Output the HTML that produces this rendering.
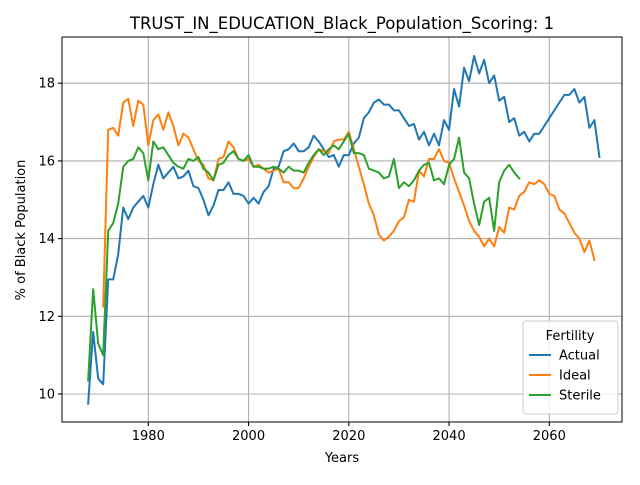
<!DOCTYPE html>
<html><head><meta charset="utf-8"><style>
body{margin:0;background:#fff;font-family:"Liberation Sans","DejaVu Sans",sans-serif}
text{font-family:"DejaVu Sans","Liberation Sans",sans-serif}
</style></head><body>
<svg id="chart" width="640" height="480" viewBox="0 0 640 480" xmlns="http://www.w3.org/2000/svg">
<rect width="640" height="480" fill="#fff"/>
<text x="342" y="29" font-size="16.5" text-anchor="middle">TRUST_IN_EDUCATION_Black_Population_Scoring: 1</text>
<g id="grid"></g>
<g id="series"></g>
<rect x="62" y="37" width="560" height="385" fill="none" stroke="#000" stroke-width="1"/>
<g id="ticks"></g>
<text x="342" y="462" font-size="13" text-anchor="middle">Years</text>
<text transform="translate(25,230) rotate(-90)" font-size="13" text-anchor="middle">% of Black Population</text>
<g>
<rect x="523" y="321" width="95" height="93" rx="3" fill="#fff" fill-opacity="0.8" stroke="#ccc"/>
<text x="570" y="340" font-size="13" text-anchor="middle">Fertility</text>
<g id="legend-items"></g>
</g>
</svg>
<script>
const actualStart = 1968;
const actualValues = [9.75,11.6,10.4,10.25,12.95,12.95,13.6,14.8,14.5,14.8,14.95,15.1,14.8,15.4,15.9,15.55,15.7,15.85,15.55,15.6,15.75,15.35,15.3,15.0,14.6,14.85,15.25,15.25,15.45,15.15,15.15,15.1,14.9,15.05,14.9,15.2,15.35,15.8,15.85,16.25,16.3,16.45,16.25,16.25,16.35,16.65,16.5,16.3,16.1,16.15,15.85,16.15,16.15,16.45,16.6,17.1,17.25,17.5,17.58,17.45,17.45,17.3,17.3,17.1,16.9,16.95,16.55,16.75,16.4,16.7,16.4,17.05,16.8,17.85,17.4,18.4,18.05,18.7,18.25,18.6,18.0,18.2,17.55,17.65,17.0,17.1,16.65,16.75,16.5,16.7,16.7,16.9,17.1,17.3,17.5,17.7,17.7,17.85,17.5,17.65,16.85,17.05,16.1];
const idealStart = 1971;
const idealValues = [12.25,16.8,16.85,16.65,17.5,17.6,16.9,17.55,17.45,16.4,17.05,17.2,16.8,17.25,16.9,16.4,16.7,16.6,16.3,16.0,15.9,15.55,15.5,16.05,16.1,16.5,16.35,16.05,16.0,16.05,15.85,15.9,15.8,15.7,15.75,15.8,15.45,15.45,15.3,15.3,15.55,15.85,16.1,16.3,16.25,16.2,16.5,16.55,16.55,16.75,16.3,15.85,15.4,14.9,14.6,14.1,13.95,14.05,14.2,14.45,14.55,15.0,14.95,15.75,15.6,16.05,16.05,16.3,16.0,15.95,15.55,15.2,14.85,14.45,14.2,14.05,13.8,14.0,13.8,14.3,14.15,14.8,14.75,15.1,15.2,15.45,15.4,15.5,15.4,15.15,15.1,14.75,14.65,14.4,14.15,14.0,13.65,13.95,13.45];
const sterileStart = 1968;
const sterileValues = [10.35,12.7,11.3,11.0,14.2,14.4,14.9,15.85,16.0,16.05,16.35,16.2,15.5,16.5,16.3,16.35,16.15,15.95,15.85,15.8,16.05,16.0,16.1,15.8,15.7,15.5,15.9,15.95,16.15,16.25,16.05,16.0,16.15,15.85,15.85,15.8,15.8,15.85,15.8,15.7,15.85,15.75,15.75,15.7,15.95,16.15,16.3,16.15,16.3,16.4,16.3,16.5,16.7,16.2,16.2,16.15,15.8,15.75,15.7,15.55,15.6,16.05,15.3,15.45,15.35,15.5,15.75,15.9,15.95,15.5,15.55,15.4,15.9,16.05,16.6,15.7,15.55,14.9,14.35,14.95,15.05,14.2,15.45,15.75,15.9,15.7,15.55];
const xTicks = [1980,2000,2020,2040,2060];
const yTicks = [10,12,14,16,18];
const seriesNames = ["Actual","Ideal","Sterile"];

const NS="http://www.w3.org/2000/svg";
function xs(v){return 148.3+(v-1980)*5.0125;}
function ys(v){return 394-(v-10)*38.85;}
function mk(tag,attrs,parent){const e=document.createElementNS(NS,tag);for(const k in attrs)e.setAttribute(k,attrs[k]);parent.appendChild(e);return e;}
const grid=document.getElementById('grid'),ticks=document.getElementById('ticks'),ser=document.getElementById('series'),leg=document.getElementById('legend-items');
xTicks.forEach(t=>{
  const l=mk('line',{x1:xs(t),x2:xs(t),y1:37,y2:422,stroke:'#b0b0b0','stroke-width':1.1},grid);
  
  
  mk('line',{x1:xs(t),x2:xs(t),y1:422,y2:426,stroke:'#000','stroke-width':1.1},ticks);
  const tx=mk('text',{x:xs(t),y:440,'font-size':13,'text-anchor':'middle'},ticks);
  tx.textContent=t;
  
  
});
yTicks.forEach(t=>{
  const l=mk('line',{x1:62,x2:622,y1:ys(t),y2:ys(t),stroke:'#b0b0b0','stroke-width':1.1},grid);
  
  
  mk('line',{x1:58,x2:62,y1:ys(t),y2:ys(t),stroke:'#000','stroke-width':1.1},ticks);
  const tx=mk('text',{x:55,y:ys(t)+4.5,'font-size':13,'text-anchor':'end'},ticks);
  tx.textContent=t;
  
  
});
const colors=['#1f77b4','#ff7f0e','#2ca02c'];
const data=[[actualStart,actualValues],[idealStart,idealValues],[sterileStart,sterileValues]];
data.forEach((d,i)=>{
  const pts=d[1].map((v,j)=>xs(d[0]+j).toFixed(2)+','+ys(v).toFixed(2)).join(' ');
  const p=mk('polyline',{points:pts,fill:'none',stroke:colors[i],'stroke-width':2,'stroke-linejoin':'round','stroke-linecap':'square'},ser);
  
  
  const y=359+i*20;
  mk('line',{x1:529,x2:551,y1:y-4,y2:y-4,stroke:colors[i],'stroke-width':2},leg);
  const t=mk('text',{x:559,y:y+0.5,'font-size':13},leg);
  t.textContent=seriesNames[i];
  
  
});
</script>
</body></html>
